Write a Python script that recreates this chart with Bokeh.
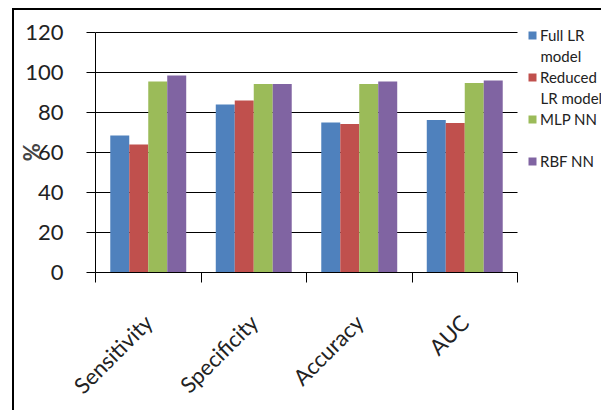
import numpy as np
from bokeh.plotting import figure
from bokeh.models import Range1d, FixedTicker, Legend, LegendItem, Label
from bokeh.embed import file_html
from bokeh.resources import INLINE

categories = ["Sensitivity", "Specificity", "Accuracy", "AUC"]
series_first_lines = ["Full LR", "Reduced", "MLP NN", "RBF NN"]
series_second_lines = ["model", "LR model", "", ""]
full_lr = [68.5, 84, 75, 76.3]
reduced_lr = [64, 86, 74.2, 74.8]
mlp_nn = [95.5, 94.2, 94.2, 94.8]
rbf_nn = [98.5, 94.2, 95.5, 96]
colors = ["#4F81BD", "#C0504D", "#9BBB59", "#8064A2"]
y_ticks = [0, 20, 40, 60, 80, 100, 120]
y_max = 120
y_title = "%"

FONT = "Lato"

# canvas sits inside a 2px left/top border, offset (12, 8) in the page
CANVAS_W, CANVAS_H = 589, 402
BORDER_L, BORDER_B = 81, 140
PLOT_W = 422            # pixel width of the category area
PX_PER_Y = 2.0          # pixels per y unit
frame_w = CANVAS_W - BORDER_L
frame_h = CANVAS_H - BORDER_B
x_end = len(categories) * frame_w / PLOT_W
y_end = frame_h / PX_PER_Y

p = figure(width=CANVAS_W, height=CANVAS_H, output_backend="svg", toolbar_location=None,
           x_range=Range1d(0, x_end), y_range=Range1d(0, y_end),
           min_border_left=BORDER_L, min_border_right=0, min_border_top=0, min_border_bottom=BORDER_B)
p.styles = {"border-left": "2px solid black", "border-top": "2px solid black",
            "margin-left": "12px", "margin-top": "8px"}
p.outline_line_color = None
p.background_fill_color = "white"
p.border_fill_color = "white"

# horizontal gridlines, limited to the category area
p.xgrid.grid_line_color = None
p.ygrid.grid_line_color = None
p.segment(x0=0, x1=len(categories), y0=y_ticks, y1=y_ticks, line_color="black", line_width=1)

series = [full_lr, reduced_lr, mlp_nn, rbf_nn]
offsets = [-0.27, -0.09, 0.09, 0.27]
centers = np.arange(len(categories)) + 0.5
renderers = []
for vals, off, col in zip(series, offsets, colors):
    r = p.vbar(x=centers + off, top=vals, width=0.18, fill_color=col, line_color=None)
    renderers.append(r)

# y axis
p.yaxis.ticker = FixedTicker(ticks=y_ticks)
p.yaxis.bounds = (0, y_max)
p.yaxis.axis_line_color = "black"
p.yaxis.major_tick_out = 9
p.yaxis.major_tick_in = 0
p.yaxis.minor_tick_line_color = None
p.yaxis.major_label_text_font = FONT
p.yaxis.major_label_text_font_size = "22px"
p.yaxis.major_label_text_color = "#222222"
p.yaxis.major_label_standoff = 23
# trailing no-break spaces centre the "%" on the 0-120 span instead of the taller frame
p.yaxis.axis_label = y_title + "\u00a0" * 4
p.yaxis.axis_label_text_font = FONT
p.yaxis.axis_label_text_font_style = "bold"
p.yaxis.axis_label_text_font_size = "22px"
p.yaxis.axis_label_standoff = -23

# x axis: labels at centers, ticks at category boundaries
p.xaxis.ticker = FixedTicker(ticks=list(centers), minor_ticks=list(range(len(categories) + 1)))
p.xaxis.bounds = (0, len(categories))
p.xaxis.major_label_overrides = {float(c): cat for c, cat in zip(centers, categories)}
p.xaxis.major_tick_line_color = None
p.xaxis.minor_tick_line_color = "black"
p.xaxis.minor_tick_out = 10
p.xaxis.minor_tick_in = 0
p.xaxis.major_label_orientation = np.pi / 4
p.xaxis.major_label_text_font = FONT
p.xaxis.major_label_text_font_size = "22px"
p.xaxis.major_label_text_color = "#222222"
p.xaxis.major_label_standoff = 36

# legend: one swatch per series, first line of each name beside it
ITEM_H = 42
LEG_X, LEG_Y = 432, 90   # frame-relative screen offsets (from left, from bottom)
legend = Legend(items=[LegendItem(label=n, renderers=[r]) for n, r in zip(series_first_lines, renderers)],
                location=(LEG_X, LEG_Y), padding=0, margin=0, spacing=0,
                glyph_width=10, glyph_height=10, label_standoff=3, label_height=ITEM_H,
                label_text_font=FONT, label_text_font_size="15px", label_text_color="#222222",
                border_line_color=None, background_fill_alpha=0)
p.add_layout(legend, "center")

# wrapped second lines of the long series names
n_items = len(series_first_lines)
for i, txt in enumerate(series_second_lines):
    if not txt:
        continue
    first_center = LEG_Y + (n_items - i) * ITEM_H - ITEM_H / 2
    p.add_layout(Label(x=LEG_X + 13, y=first_center - 20, x_units="screen", y_units="screen",
                       text=txt, text_font=FONT, text_font_size="15px", text_color="#222222",
                       text_baseline="middle", text_align="left"))

open("out.html", "w").write(file_html(p, INLINE))
